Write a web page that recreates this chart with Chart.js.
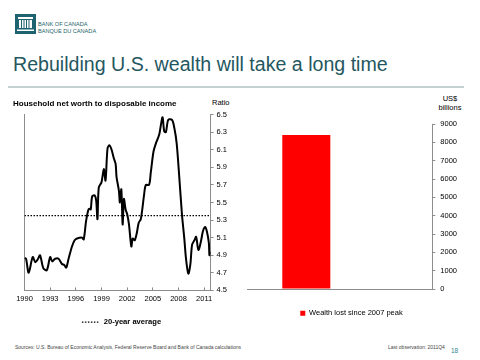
<!DOCTYPE html>
<html><head><meta charset="utf-8">
<script src="https://cdn.jsdelivr.net/npm/chart.js@4/dist/chart.umd.min.js"></script>
<style>
html,body{margin:0;padding:0;background:#fff;width:480px;height:360px;overflow:hidden;font-family:"Liberation Sans",Arial,sans-serif;}
#wrap{position:relative;width:480px;height:360px;}
.abs{position:absolute;white-space:nowrap;line-height:1;}
canvas{position:absolute;}
</style></head><body><div id="wrap">
<svg class="abs" style="left:15px;top:14px" width="21" height="20" viewBox="0 0 21 20">
  <rect width="21" height="20" fill="#1d6470"/>
  <rect x="3" y="3" width="15" height="2" fill="#fff"/>
  <rect x="4" y="6" width="13" height="8" fill="#fff"/>
  <rect x="6" y="6" width="1" height="8" fill="#1d6470"/>
  <rect x="8.5" y="6" width="1" height="8" fill="#1d6470"/>
  <rect x="11" y="6" width="1" height="8" fill="#1d6470"/>
  <rect x="13.5" y="6" width="1" height="8" fill="#1d6470"/>
  <rect x="2" y="15.5" width="17" height="1.5" fill="#fff"/>
</svg>
<div class="abs" style="left:38px;top:22px;font-size:5.6px;color:#1d5f68;">BANK OF CANADA</div>
<div class="abs" style="left:38px;top:28.5px;font-size:5.6px;color:#1d5f68;">BANQUE DU CANADA</div>
<div class="abs" style="left:13px;top:55px;font-size:19.6px;color:#24575f;">Rebuilding U.S. wealth will take a long time</div>
<div class="abs" style="left:8px;top:86px;width:456px;height:2px;background:#c3d2d0;"></div>
<div class="abs" style="left:212px;top:99px;font-size:7.5px;color:#000;">Ratio</div>
<div class="abs" style="left:440px;top:95px;width:20px;text-align:center;font-size:7.5px;color:#000;">US$</div>
<div class="abs" style="left:436px;top:104px;width:28px;text-align:center;font-size:7.5px;color:#000;">billions</div>
<div class="abs" style="left:15px;top:345px;font-size:5px;color:#444;">Sources: U.S. Bureau of Economic Analysis, Federal Reserve Board and Bank of Canada calculations</div>
<div class="abs" style="left:388px;top:345px;font-size:5px;color:#444;">Last observation: 2011Q4</div>
<div class="abs" style="left:451px;top:348px;font-size:6.5px;color:#2f8590;">18</div>
<canvas id="c1" width="236" height="246" style="left:0;top:92px;"></canvas>
<canvas id="c2" width="240" height="237" style="left:240px;top:92px;"></canvas>
</div>
<script>
const years = [1990.00,1990.18,1990.49,1990.96,1991.27,1991.59,1991.82,1992.21,1992.61,1993.00,1993.24,1993.59,1993.98,1994.38,1994.65,1994.88,1995.15,1995.55,1995.86,1996.14,1996.73,1996.92,1997.20,1997.44,1997.59,1997.74,1997.91,1998.21,1998.38,1998.53,1998.68,1999.00,1999.27,1999.47,1999.71,1999.94,2000.18,2000.45,2000.65,2000.76,2001.04,2001.15,2001.32,2001.47,2001.62,2001.82,2002.02,2002.21,2002.49,2002.65,2002.88,2003.12,2003.35,2003.59,2003.79,2003.98,2004.18,2004.56,2004.76,2005.08,2005.35,2005.74,2005.94,2006.14,2006.33,2006.53,2006.80,2007.24,2007.51,2007.79,2008.09,2008.41,2008.68,2008.88,2009.15,2009.39,2009.59,2009.86,2010.06,2010.33,2010.65,2010.85,2011.12,2011.32,2011.55,2011.62,2011.74];
const ratios = [4.87,4.86,4.70,4.88,4.82,4.86,4.90,4.75,4.73,4.88,4.83,4.86,4.86,4.80,4.79,4.76,4.86,5.00,5.07,5.09,5.10,5.08,5.29,5.41,5.43,5.42,5.57,5.58,5.52,5.31,5.67,5.73,5.88,5.75,6.12,6.15,6.10,6.00,5.94,5.79,5.63,5.50,5.65,5.25,5.54,5.42,5.36,5.25,5.00,5.09,5.07,5.15,5.27,5.31,5.44,5.59,5.70,5.70,5.84,6.08,6.17,6.27,6.38,6.47,6.31,6.30,6.44,6.44,6.35,6.17,5.79,5.36,5.09,4.86,4.69,4.80,5.02,5.07,5.11,4.96,5.07,5.17,5.22,5.17,5.04,4.90,4.94];
const averageRatio = 5.35;
const yearTicks = [1990,1993,1996,1999,2002,2005,2008,2011];
const yearStart = 1990, yearEnd = 2011.75;
const ratioMin = 4.5, ratioMax = 6.5, ratioStep = 0.2;

const wealthLabels = ['Wealth lost since 2007 peak'];
const wealthLost = [8400];
const wealthMin = 0, wealthMax = 9000, wealthStep = 1000;

const FONT = '"Liberation Sans", Arial, sans-serif';
const AXIS = '#8c8c8c';

new Chart(document.getElementById('c1'), {
  type: 'line',
  data: { datasets: [
    { label: 'Household net worth to disposable income', data: years.map((x,i)=>({x, y: ratios[i]})),
      borderColor: '#000', borderWidth: 2, pointRadius: 0, tension: 0.3, yAxisID: 'y' },
    { label: '20-year average', data: [{x: yearStart, y: averageRatio}, {x: yearEnd, y: averageRatio}],
      borderColor: '#000', borderWidth: 1.3, borderDash: [1.5, 1.5], pointRadius: 0, yAxisID: 'y' }
  ]},
  options: {
    responsive: false, animation: false,
    layout: { padding: { left: 13, right: 6, top: 0, bottom: 2 } },
    plugins: {
      title: { display: true, text: 'Household net worth to disposable income', align: 'start', color: '#000',
        font: { family: FONT, size: 8, weight: 'bold' }, padding: { top: 7, bottom: 6 } },
      legend: { position: 'bottom', labels: {
        generateLabels: chart => chart.data.datasets.map((d, i) => ({ d, i })).filter(o => o.d.borderDash).map(o => ({
          text: o.d.label, datasetIndex: o.i, strokeStyle: o.d.borderColor, fillStyle: o.d.borderColor,
          lineWidth: o.d.borderWidth, lineDash: o.d.borderDash, pointStyle: 'line', hidden: false, fontColor: '#000' })),
        usePointStyle: true, pointStyleWidth: 18, color: '#000', font: { family: FONT, size: 7.6, weight: 'bold' }, padding: 8 } },
      tooltip: { enabled: false }
    },
    scales: {
      x: { type: 'linear', min: yearStart, max: yearEnd,
        afterBuildTicks: s => { s.ticks = yearTicks.map(v => ({ value: v })); },
        ticks: { callback: v => String(v), color: '#000', font: { family: FONT, size: 7.5 }, maxRotation: 0, autoSkip: false, padding: 7 },
        grid: { drawOnChartArea: false, tickLength: -3, color: AXIS }, border: { color: AXIS } },
      y: { position: 'right', min: ratioMin, max: ratioMax,
        ticks: { stepSize: ratioStep, callback: v => v.toFixed(1), color: '#000', font: { family: FONT, size: 7.5 }, padding: 3 },
        grid: { drawOnChartArea: false, tickLength: 3, color: AXIS }, border: { color: AXIS } },
      yl: { position: 'left', min: ratioMin, max: ratioMax, ticks: { display: false },
        grid: { drawOnChartArea: false, drawTicks: false }, border: { color: AXIS },
        afterFit: s => { s.width = 11.5; } }
    }
  }
});

const legendNudge = { id: 'legendNudge', afterLayout(chart) { if (chart.legend) { chart.legend.left -= 3; chart.legend.right -= 3; } } };

new Chart(document.getElementById('c2'), {
  type: 'bar',
  data: { labels: [''], datasets: [
    { label: wealthLabels[0], data: wealthLost, backgroundColor: '#ff0000', categoryPercentage: 0.72, barPercentage: 0.72 },
    { label: '', data: [null], categoryPercentage: 0.72, barPercentage: 0.72 }
  ]},
  plugins: [legendNudge],
  options: {
    responsive: false, animation: false,
    layout: { padding: { left: 7, right: 18, top: 32, bottom: 2 } },
    plugins: {
      legend: { position: 'bottom', labels: { filter: it => it.text !== '', boxWidth: 5, boxHeight: 5,
        color: '#000', font: { family: FONT, size: 7.5 }, padding: 12.5 } },
      tooltip: { enabled: false }
    },
    scales: {
      x: { ticks: { display: false }, grid: { display: false }, border: { color: AXIS } },
      y: { position: 'right', min: wealthMin, max: wealthMax,
        ticks: { stepSize: wealthStep, callback: v => String(v), color: '#000', font: { family: FONT, size: 7.5 }, padding: 5 },
        grid: { drawOnChartArea: false, tickLength: 3, color: AXIS }, border: { color: AXIS } }
    }
  }
});
</script>
</body></html>
